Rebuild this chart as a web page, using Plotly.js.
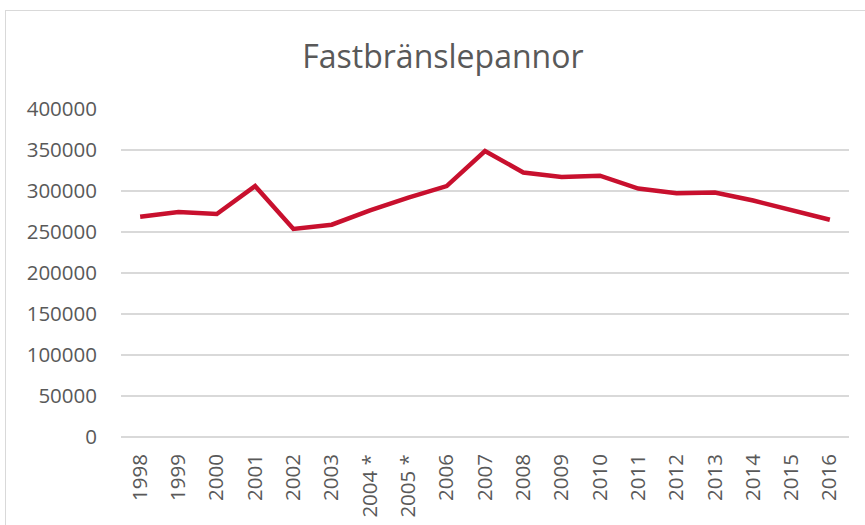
<!DOCTYPE html>
<html>
<head>
<meta charset="utf-8">
<script src="https://cdn.plot.ly/plotly-3.0.1.min.js"></script>
<style>
  html, body { margin: 0; padding: 0; background: #ffffff; overflow: hidden; }
  #frame { position: absolute; left: 5px; top: 10px; width: 900px; height: 600px; border: 1px solid #d9d9d9; }
  #chart { position: absolute; left: 0; top: 0; width: 865px; height: 525px; }
</style>
</head>
<body>
<div id="frame"></div>
<div id="chart"></div>
<script>
const years = ["1998","1999","2000","2001","2002","2003","2004 *","2005 *","2006","2007","2008","2009","2010","2011","2012","2013","2014","2015","2016"];
const values = [268700, 274500, 272000, 306000, 253700, 258900, 276500, 292000, 306000, 348800, 322600, 317000, 318700, 303000, 297400, 298200, 288400, 276200, 265000];
const yTicks = [0, 50000, 100000, 150000, 200000, 250000, 300000, 350000, 400000];

const fontFam = "Open Sans, Noto Sans, Liberation Sans, sans-serif";
const textColor = "#595959";

Plotly.newPlot("chart", [{
  type: "scatter",
  mode: "lines",
  x: years,
  y: values,
  line: { color: "#c8102e", width: 4.5 },
  hoverinfo: "skip"
}], {
  width: 865,
  height: 525,
  paper_bgcolor: "rgba(0,0,0,0)",
  plot_bgcolor: "rgba(0,0,0,0)",
  margin: { l: 121, r: 16, t: 109, b: 88 },
  showlegend: false,
  title: {
    text: "Fastbränslepannor",
    font: { family: fontFam, size: 32, color: textColor },
    xref: "container", x: 0.512, xanchor: "center",
    yref: "container", y: 1 - 57/525, yanchor: "middle"
  },
  xaxis: {
    type: "category",
    range: [-0.5, 18.5],
    tickangle: -90,
    tickfont: { family: fontFam, size: 20.5, color: textColor },
    showgrid: false,
    showline: false,
    zeroline: false,
    ticks: "",
    ticklabelstandoff: 12,
    fixedrange: true
  },
  yaxis: {
    range: [0, 400000],
    tickvals: yTicks,
    ticktext: yTicks.map(String),
    tickfont: { family: fontFam, size: 20.5, color: textColor },
    showgrid: true,
    gridcolor: "#d9d9d9",
    gridwidth: 1.5,
    zeroline: true,
    zerolinecolor: "#d9d9d9",
    zerolinewidth: 1.5,
    showline: false,
    ticks: "",
    ticklabelstandoff: 23,
    fixedrange: true
  }
}, { staticPlot: true, displayModeBar: false });
</script>
</body>
</html>
